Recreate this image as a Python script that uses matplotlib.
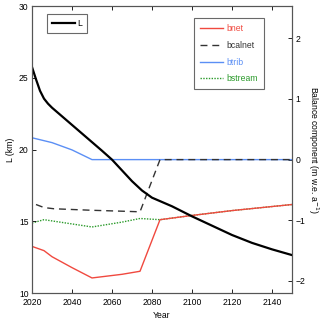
import matplotlib
matplotlib.use("Agg")
import matplotlib.pyplot as plt

plt.rcParams["font.family"] = ["Liberation Sans", "DejaVu Sans"]
plt.rcParams["font.size"] = 6.2

# glacier length (km)
years_L = [2020, 2022, 2024, 2026, 2028, 2030, 2035, 2040, 2045, 2050, 2055,
           2060, 2065, 2070, 2075, 2080, 2085, 2090, 2100, 2110, 2120, 2130,
           2140, 2150]
L_km = [25.75, 24.9, 24.1, 23.55, 23.2, 22.92, 22.32, 21.72, 21.12, 20.52,
        19.92, 19.3, 18.55, 17.8, 17.15, 16.65, 16.35, 16.05, 15.35, 14.7,
        14.05, 13.5, 13.05, 12.65]

# balance components (m w.e. a-1)
years_b = [2020, 2026, 2030, 2040, 2050, 2065, 2074, 2084, 2100, 2120, 2150]
bnet = [-1.43, -1.50, -1.60, -1.78, -1.95, -1.89, -1.84, -0.99, -0.92, -0.84, -0.74]
bstream = [-1.045, -0.99, -1.01, -1.06, -1.11, -1.03, -0.97, -0.99, -0.92, -0.84, -0.74]

years_tr = [2020, 2030, 2040, 2050, 2150]
btrib = [0.36, 0.28, 0.16, 0.0, 0.0]

years_cal = [2022, 2026, 2031, 2050, 2065, 2074, 2084, 2150]
bcalnet = [-0.74, -0.79, -0.81, -0.835, -0.85, -0.86, 0.0, 0.0]

c_red = "#f0493f"
c_blue = "#5b8ff5"
c_green = "#2a9a2a"
c_axis = "#555555"

fig = plt.figure(figsize=(3.2, 3.2), dpi=100)
ax = fig.add_axes([0.1, 0.084, 0.8125, 0.897])
ax2 = ax.twinx()
ax.set_zorder(ax2.get_zorder() + 1)
ax.patch.set_visible(False)

ax2.plot(years_tr, btrib, color=c_blue, lw=1.0, label="btrib")
ax2.plot(years_cal, bcalnet, color="#333333", lw=1.0, ls=(0, (5, 3.5)), label="bcalnet")
ax2.plot(years_b, bstream, color=c_green, lw=1.0, ls=(0, (1, 1)), label="bstream")
ax2.plot(years_b, bnet, color=c_red, lw=1.0, label="bnet")

ax.plot(years_L, L_km, color="black", lw=1.6, label="L")

ax.set_xlim(2020, 2150)
ax.set_ylim(10, 30)
ax2.set_ylim(-2.2, 2.53)
ax.set_xticks([2020, 2040, 2060, 2080, 2100, 2120, 2140])
ax.set_yticks([10, 15, 20, 25, 30])
ax2.set_yticks([-2, -1, 0, 1, 2])
ax.set_xlabel("Year", labelpad=3)
ax.set_ylabel("L (km)", labelpad=3)
ax2.set_ylabel("Balance component (m w.e. a$^{-1}$)", rotation=270, labelpad=11)

for a in (ax, ax2):
    a.tick_params(direction="in", length=3, width=0.6, colors="black", pad=2.5)
    for s in a.spines.values():
        s.set_color(c_axis)
        s.set_linewidth(0.8)
ax.tick_params(axis="x", top=True, pad=3.5)

leg1 = ax.legend(loc="upper left", bbox_to_anchor=(0.058, 0.972), borderaxespad=0,
                 frameon=True, fancybox=False, edgecolor="#444444",
                 handlelength=2.7, handletextpad=0.3, borderpad=0.55)
leg1.get_frame().set_linewidth(0.8)

order = ["bnet", "bcalnet", "btrib", "bstream"]
hmap = {l.get_label(): l for l in ax2.get_lines()}
handles = [hmap[k] for k in order]
leg2 = ax2.legend(handles, order, loc="upper right", bbox_to_anchor=(0.892, 0.958),
                  borderaxespad=0, frameon=True, fancybox=False, edgecolor="#444444",
                  handlelength=2.7, handletextpad=0.35, borderpad=0.7,
                  labelspacing=0.9)
leg2.get_frame().set_linewidth(0.8)
for t, h in zip(leg2.get_texts(), handles):
    t.set_color(h.get_color())

fig.savefig("out.png", dpi=100)
